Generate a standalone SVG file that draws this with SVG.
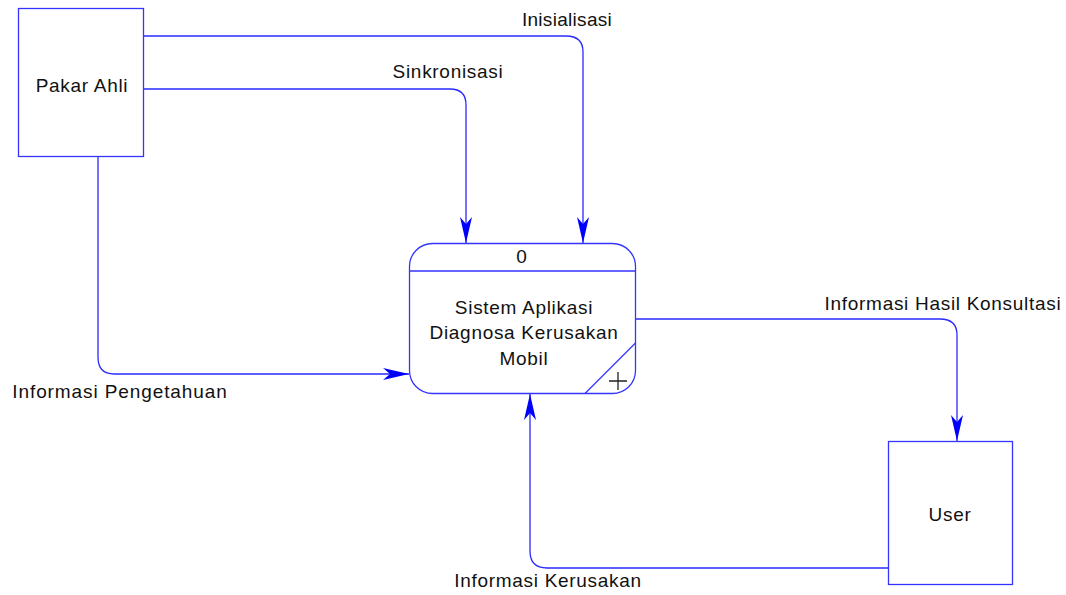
<svg xmlns="http://www.w3.org/2000/svg" width="1066" height="595" viewBox="0 0 1066 595">
  <style>
    .box { fill: #ffffff; stroke: #3535ff; stroke-width: 1.3; }
    .flow { fill: none; stroke: #2a2aff; stroke-width: 1.3; }
    .lbl { font-family: "Liberation Sans", Arial, sans-serif; font-size: 19px; letter-spacing: 0.7px; fill: #111111; text-anchor: middle; }
  </style>
  <defs>
    <marker id="arrow" viewBox="-27 -7 28 14" refX="0" refY="0" markerWidth="28" markerHeight="14" markerUnits="userSpaceOnUse" orient="auto">
      <path d="M0,0 L-26,-6 L-19,0 L-26,6 Z" fill="#0000ff"/>
    </marker>
  </defs>
  <rect width="1066" height="595" fill="#ffffff"/>

  <!-- data flows -->
  <g id="connectors">
    <path class="flow" d="M143,36 H566 Q583,36 583,52 V243" marker-end="url(#arrow)"/>
    <path class="flow" d="M143,89 H450 Q466,89 466,105 V243" marker-end="url(#arrow)"/>
    <path class="flow" d="M98,157 V357 Q98,374 114,374 H409" marker-end="url(#arrow)"/>
    <path class="flow" d="M636,319 H940 Q957,319 957,335 V441" marker-end="url(#arrow)"/>
    <path class="flow" d="M888,568 H547 Q530,568 530,551 V394" marker-end="url(#arrow)"/>
    <text class="lbl" x="567" y="26" style="letter-spacing:0.3px">Inisialisasi</text>
    <text class="lbl" x="448" y="78">Sinkronisasi</text>
    <text class="lbl" x="120" y="398" style="letter-spacing:0.9px">Informasi Pengetahuan</text>
    <text class="lbl" x="943" y="310">Informasi Hasil Konsultasi</text>
    <text class="lbl" x="548" y="587">Informasi Kerusakan</text>
  </g>

  <!-- external entity: expert -->
  <g id="pakar-ahli">
    <rect class="box" x="18.5" y="8.5" width="125" height="148"/>
    <text class="lbl" x="82" y="92">Pakar Ahli</text>
  </g>

  <!-- process 0 -->
  <g id="process-0">
    <rect class="box" x="409.5" y="243.5" width="226" height="150" rx="23" ry="23"/>
    <line class="box" x1="409.5" y1="271" x2="635.5" y2="271"/>
    <line class="box" x1="635.5" y1="343" x2="585" y2="393.5"/>
    <path d="M618,372 V390 M609,381 H627" stroke="#222222" stroke-width="1.3" fill="none"/>
    <text class="lbl" x="522" y="263">0</text>
    <text class="lbl" x="524" y="314">Sistem Aplikasi</text>
    <text class="lbl" x="524" y="339">Diagnosa Kerusakan</text>
    <text class="lbl" x="524" y="365">Mobil</text>
  </g>

  <!-- external entity: user -->
  <g id="user">
    <rect class="box" x="888.5" y="441.5" width="124" height="143"/>
    <text class="lbl" x="950" y="521">User</text>
  </g>
</svg>
